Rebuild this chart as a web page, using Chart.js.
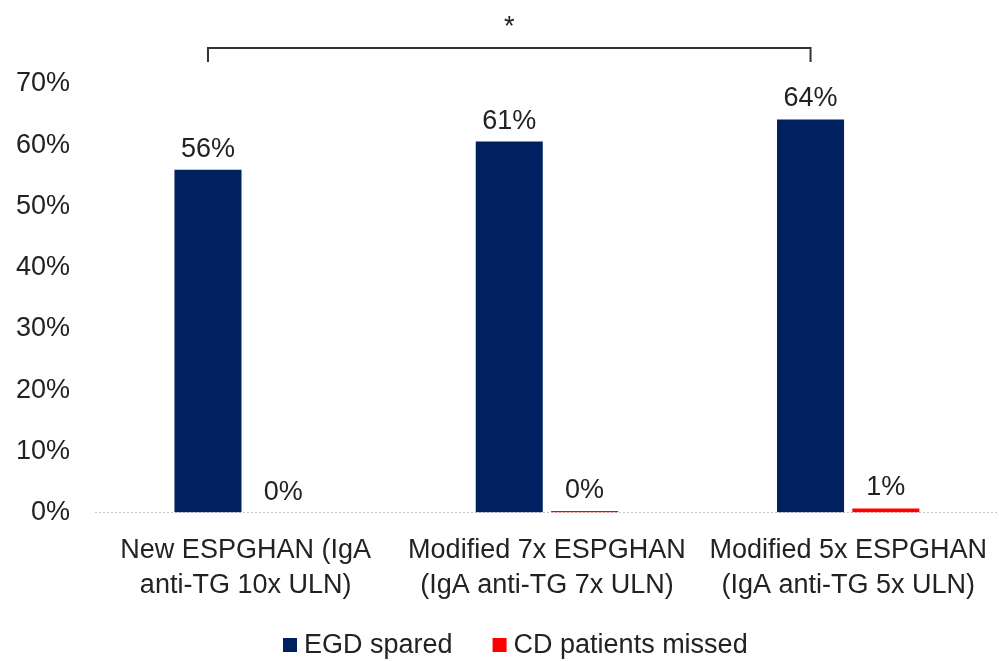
<!DOCTYPE html>
<html>
<head>
<meta charset="utf-8">
<script src="https://cdn.jsdelivr.net/npm/chart.js@4/dist/chart.umd.min.js"></script>
<style>
  html, body { margin: 0; padding: 0; background: #fff; }
  #wrap { width: 999px; height: 661px; }
</style>
</head>
<body>
<div id="wrap"><canvas id="myChart"></canvas></div>
<script>
const categories = [
  ['New ESPGHAN (IgA', 'anti-TG 10x ULN)'],
  ['Modified 7x ESPGHAN', '(IgA anti-TG 7x ULN)'],
  ['Modified 5x ESPGHAN', '(IgA anti-TG 5x ULN)']
];
const egdSpared = [56, 60.6, 64.2];
const cdMissed = [0, 0.3, 0.7];
const egdLabels = ['56%', '61%', '64%'];
const cdLabels = ['0%', '0%', '1%'];
const yTicks = [0, 10, 20, 30, 40, 50, 60, 70];

const FONT = 'Liberation Sans, Arial, sans-serif';
const SIZE = 27;

// value labels above bars + significance bracket + bottom legend
const annotate = {
  id: 'annotate',
  afterDatasetsDraw(chart) {
    const ctx = chart.ctx;
    const texts = [egdLabels, cdLabels];
    ctx.save();
    ctx.font = SIZE + 'px ' + FONT;
    ctx.fillStyle = '#222';
    ctx.textAlign = 'center';
    ctx.textBaseline = 'bottom';
    texts.forEach((arr, di) => {
      chart.getDatasetMeta(di).data.forEach((bar, i) => {
        ctx.fillText(arr[i], bar.x, bar.y - 7);
      });
    });
    // bracket between first and third blue bar
    const bars = chart.getDatasetMeta(0).data;
    const x1 = bars[0].x, x2 = bars[2].x;
    const top = 48, foot = 62;
    ctx.strokeStyle = '#333';
    ctx.lineWidth = 2;
    ctx.beginPath();
    ctx.moveTo(x1, foot);
    ctx.lineTo(x1, top);
    ctx.lineTo(x2, top);
    ctx.lineTo(x2, foot);
    ctx.stroke();
    ctx.textBaseline = 'middle';
    ctx.fillText('*', (x1 + x2) / 2, 28);

    // legend
    ctx.textAlign = 'left';
    let x = 283;
    const y = 645;
    chart.data.datasets.forEach(ds => {
      ctx.fillStyle = ds.backgroundColor;
      ctx.fillRect(x, y - 7, 14, 14);
      x += 14 + 7;
      ctx.fillStyle = '#222';
      ctx.fillText(ds.label, x, y + 1);
      x += ctx.measureText(ds.label).width + 40;
    });
    ctx.restore();
  }
};

new Chart(document.getElementById('myChart').getContext('2d'), {
  type: 'bar',
  data: {
    labels: categories,
    datasets: [{
      label: 'EGD spared',
      data: egdSpared,
      backgroundColor: '#002060',
      barPercentage: 0.89,
      categoryPercentage: 0.5
    }, {
      label: 'CD patients missed',
      data: cdMissed,
      backgroundColor: '#ff0000',
      barPercentage: 0.89,
      categoryPercentage: 0.5
    }]
  },
  options: {
    responsive: true,
    maintainAspectRatio: false,
    animation: false,
    layout: { padding: { top: 84, right: 0, left: 0, bottom: 46 } },
    plugins: {
      legend: { display: false },
      tooltip: { enabled: false }
    },
    scales: {
      x: {
        grid: { display: false },
        border: { display: false },
        ticks: {
          font: { family: FONT, size: SIZE, lineHeight: 1.3 },
          color: '#222',
          padding: 12,
          maxRotation: 0,
          autoSkip: false
        }
      },
      y: {
        min: 0,
        max: 70,
        afterBuildTicks(axis) {
          axis.ticks = yTicks.map(v => ({ value: v }));
        },
        afterFit(axis) {
          axis.width = 95;
        },
        grid: {
          color: c => c.tick && c.tick.value === 0 ? '#c8c8c8' : 'transparent',
          drawTicks: false
        },
        border: { display: false, dash: [2, 2] },
        ticks: {
          font: { family: FONT, size: SIZE },
          color: '#222',
          padding: 25,
          callback: v => v + '%'
        }
      }
    }
  },
  plugins: [annotate]
});
</script>
</body>
</html>
